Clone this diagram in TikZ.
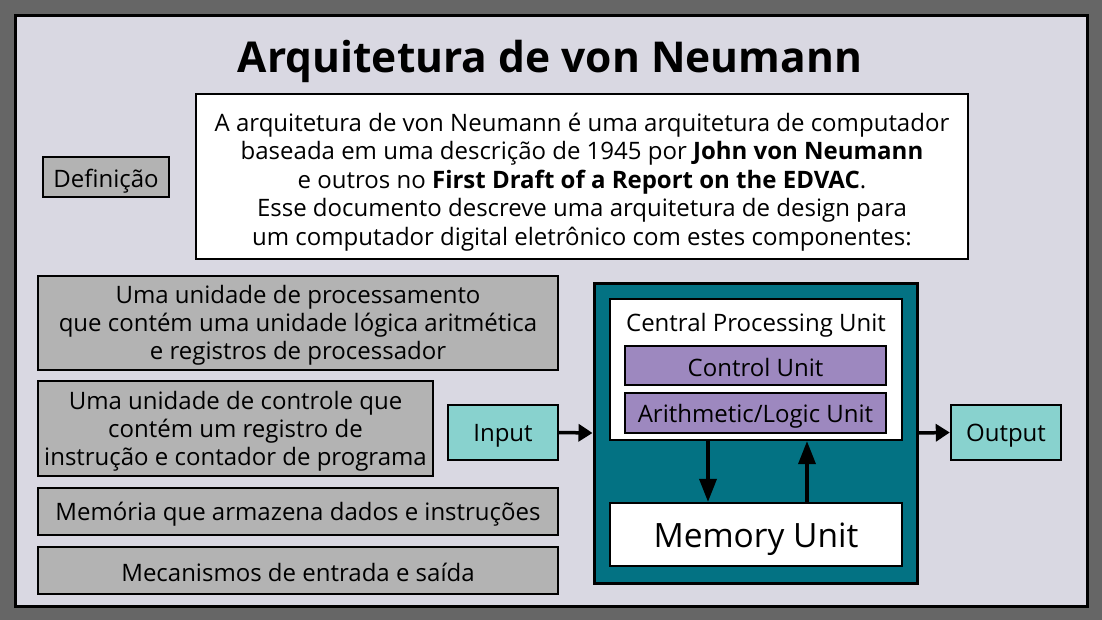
\documentclass[tikz,border=0pt]{standalone}
\usepackage{fontspec}
\setmainfont{Open Sans}
\usetikzlibrary{arrows.meta}
\definecolor{outerbg}{HTML}{666666}
\definecolor{panel}{HTML}{D9D8E2}
\definecolor{grayfill}{HTML}{B3B3B3}
\definecolor{tealdark}{HTML}{037283}
\definecolor{teallight}{HTML}{88D2CE}
\definecolor{purplefill}{HTML}{9D88BF}
\tikzset{
  box/.style={draw=black, line width=1.6pt, inner sep=0pt},
  txt/.style={inner sep=0pt, align=center, font=\fontsize{24}{27.8}\selectfont},
  graybox/.style={box, fill=grayfill},
  iobox/.style={box, fill=teallight, line width=2.4pt, minimum width=110pt, minimum height=55pt},
  unitbox/.style={box, fill=purplefill, minimum width=261pt},
  harr/.style={line width=3.5pt, -{Triangle[length=14pt,width=17pt]}},
  varr/.style={line width=3.5pt, -{Triangle[length=23pt,width=17pt]}}
}
\begin{document}
\begin{tikzpicture}[x=1pt,y=-1pt]
\fill[outerbg] (0,0) rectangle (1102,620);
\useasboundingbox (0,0) rectangle (1102,620);
\draw[fill=panel, line width=3pt] (15.5,15.5) rectangle (1087,606);
\node[font=\fontsize{42.5}{50}\selectfont\bfseries] (title) at (550,61) {Arquitetura de von Neumann};
% definition label
\node[graybox, minimum width=126pt, minimum height=40pt] (defl) at (106,177) {};
\node[txt] (defltext) at (106,181) {Definição};
% definition text
\node[box, fill=white, line width=2.2pt, minimum width=772pt, minimum height=165pt] (deft) at (582,176.5) {};
\node[txt, font=\fontsize{24}{28.6}\selectfont] (defttext) at (582,182) {A arquitetura de von Neumann é uma arquitetura de computador\\baseada em uma descrição de 1945 por \textbf{John von Neumann}\\e outros no \textbf{First Draft of a Report on the EDVAC}.\\Esse documento descreve uma arquitetura de design para\\um computador digital eletrônico com estes componentes:};
% components
\node[graybox, minimum width=520pt, minimum height=94pt] (g1) at (298,323) {};
\node[txt] (g1text) at (298,325.5) {Uma unidade de processamento\\que contém uma unidade lógica aritmética\\e registros de processador};
\node[graybox, minimum width=395pt, minimum height=95pt] (g2) at (235.5,428.5) {};
\node[txt] (g2text) at (235.5,431.5) {Uma unidade de controle que\\contém um registro de\\instrução e contador de programa};
\node[graybox, minimum width=520pt, minimum height=47pt] (g3) at (298,511.5) {};
\node[txt] (g3text) at (298,514.5) {Memória que armazena dados e instruções};
\node[graybox, minimum width=520pt, minimum height=47pt] (g4) at (298,570.5) {};
\node[txt] (g4text) at (298,572.5) {Mecanismos de entrada e saída};
% input
\node[iobox] (input) at (503,432.5) {};
\node[txt] (inputtext) at (503,435.5) {Input};
% architecture
\node[box, fill=tealdark, line width=3pt, minimum width=323pt, minimum height=300pt] (outer) at (755.5,433) {};
\node[box, fill=white, line width=2.2pt, minimum width=292pt, minimum height=141pt] (cpu) at (756,369.5) {};
\node[txt] (cpulabel) at (756,325) {Central Processing Unit};
\node[unitbox, minimum height=39pt] (cu) at (755.5,365.5) {};
\node[txt] (cutext) at (755.5,367) {Control Unit};
\node[unitbox, minimum height=40pt] (alu) at (755.5,413) {};
\node[txt] (alutext) at (755.5,416.5) {Arithmetic/Logic Unit};
\node[box, fill=white, line width=2.2pt, minimum width=292pt, minimum height=63pt] (mem) at (756,534.5) {};
\node[txt, font=\fontsize{33.5}{38}\selectfont] (memtext) at (756,539) {Memory Unit};
% output
\node[iobox] (output) at (1006,432.5) {};
\node[txt] (outputtext) at (1006,435.5) {Output};
% connectors
\draw[harr] (input.east) -- (outer.west);
\draw[harr] (outer.east) -- (output.west);
\draw[varr] ([xshift=-48pt]cpu.south) -- ([xshift=-48pt]mem.north);
\draw[varr] ([xshift=51pt]mem.north) -- ([xshift=51pt]cpu.south);
\end{tikzpicture}
\end{document}
